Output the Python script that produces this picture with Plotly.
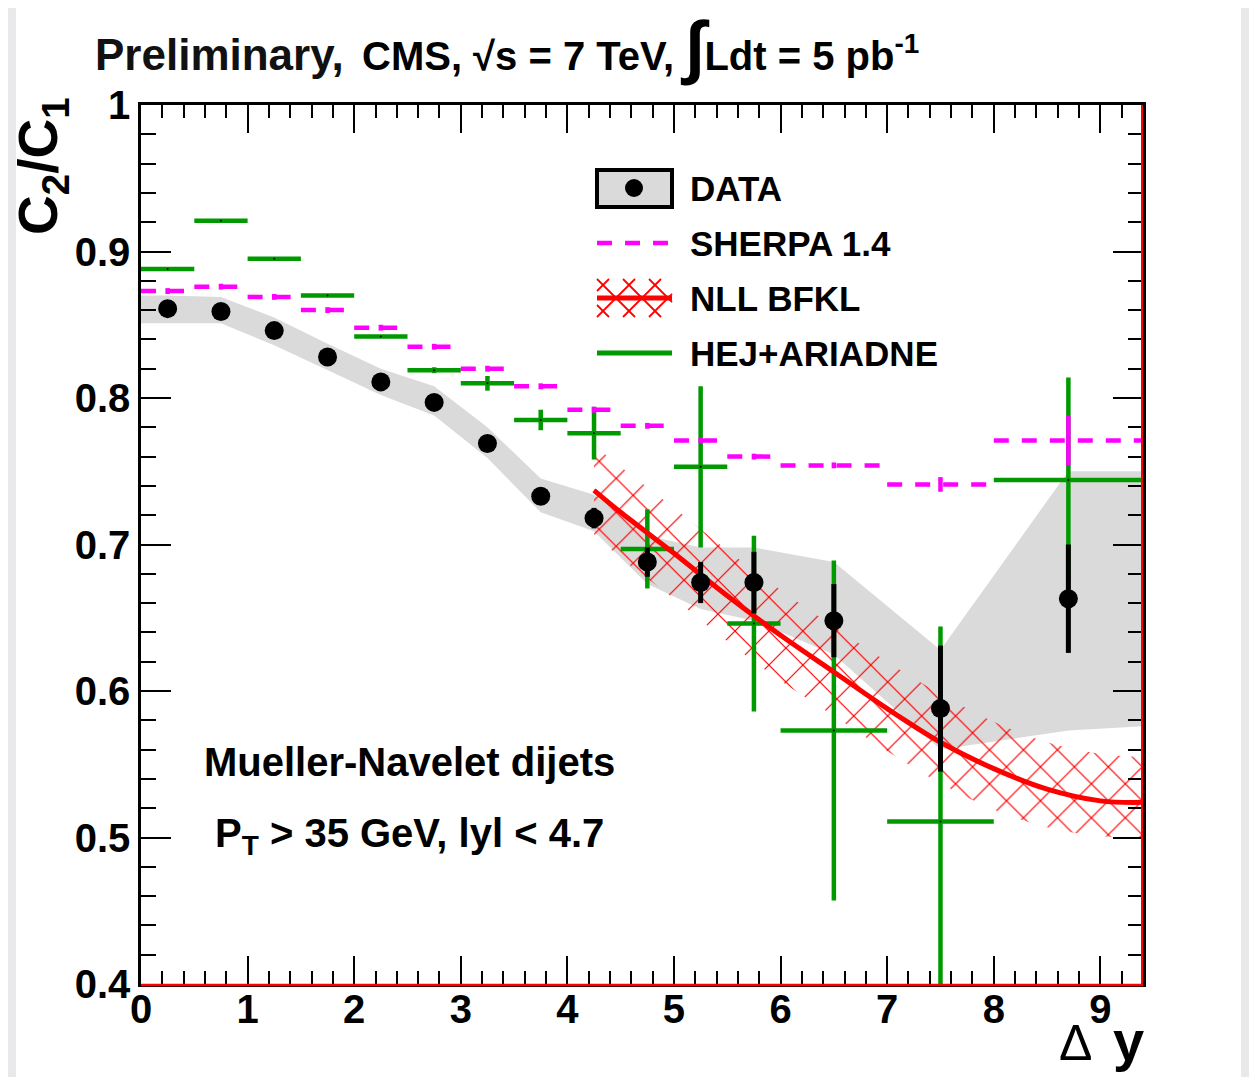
import plotly.graph_objects as go

# ---------------- data ----------------
data_x = [0.25, 0.75, 1.25, 1.75, 2.25, 2.75, 3.25, 3.75, 4.25, 4.75, 5.25, 5.75, 6.5, 7.5, 8.7]
data_y = [0.861, 0.859, 0.846, 0.828, 0.811, 0.797, 0.769, 0.733, 0.718, 0.688, 0.674, 0.674, 0.648, 0.588, 0.663]
data_stat = [0.002, 0.002, 0.002, 0.002, 0.003, 0.003, 0.004, 0.005, 0.007, 0.010, 0.014, 0.021, 0.025, 0.043, 0.037]

band_x = [0.0, 0.25, 0.75, 1.25, 1.75, 2.25, 2.75, 3.25, 3.75, 4.25, 4.75, 5.25, 5.75, 6.5, 7.5, 8.7, 9.4]
band_lo = [0.851, 0.851, 0.851, 0.836, 0.819, 0.802, 0.788, 0.759, 0.722, 0.709, 0.673, 0.656, 0.648, 0.625, 0.560, 0.573, 0.576]
band_hi = [0.870, 0.870, 0.869, 0.855, 0.837, 0.820, 0.808, 0.780, 0.745, 0.734, 0.706, 0.698, 0.698, 0.688, 0.628, 0.750, 0.750]

nll_x = [4.25, 4.5, 5.0, 5.5, 6.0, 6.5, 7.0, 7.5, 8.0, 8.5, 9.0, 9.4]
nll_y = [0.737, 0.722, 0.694, 0.665, 0.638, 0.613, 0.588, 0.565, 0.547, 0.533, 0.525, 0.524]
nll_hi = [0.768, 0.753, 0.725, 0.696, 0.669, 0.644, 0.620, 0.598, 0.579, 0.565, 0.557, 0.555]
nll_lo = [0.707, 0.691, 0.663, 0.634, 0.607, 0.583, 0.559, 0.537, 0.519, 0.507, 0.501, 0.500]

sherpa_lo = [0.0, 0.5, 1.0, 1.5, 2.0, 2.5, 3.0, 3.5, 4.0, 4.5, 5.0, 5.5, 6.0, 7.0, 8.0]
sherpa_hi = [0.5, 1.0, 1.5, 2.0, 2.5, 3.0, 3.5, 4.0, 4.5, 5.0, 5.5, 6.0, 7.0, 8.0, 9.4]
sherpa_y = [0.873, 0.876, 0.869, 0.860, 0.848, 0.835, 0.820, 0.808, 0.792, 0.781, 0.771, 0.760, 0.754, 0.741, 0.771]
sherpa_err = [0.002, 0.002, 0.002, 0.002, 0.002, 0.002, 0.002, 0.002, 0.002, 0.002, 0.002, 0.002, 0.002, 0.005, 0.017]

hej_x = [0.25, 0.75, 1.25, 1.75, 2.25, 2.75, 3.25, 3.75, 4.25, 4.75, 5.25, 5.75, 6.5, 7.5, 8.7]
hej_xerr = [0.25, 0.25, 0.25, 0.25, 0.25, 0.25, 0.25, 0.25, 0.25, 0.25, 0.25, 0.25, 0.5, 0.5, 0.7]
hej_y = [0.888, 0.921, 0.895, 0.870, 0.842, 0.819, 0.810, 0.785, 0.776, 0.697, 0.753, 0.646, 0.573, 0.511, 0.744]
hej_err = [0.001, 0.001, 0.001, 0.001, 0.001, 0.002, 0.005, 0.007, 0.018, 0.027, 0.055, 0.060, 0.116, 0.133, 0.070]

x_ticks = [0, 1, 2, 3, 4, 5, 6, 7, 8, 9]
y_ticks = [0.4, 0.5, 0.6, 0.7, 0.8, 0.9, 1.0]
y_ticktext = ["0.4", "0.5", "0.6", "0.7", "0.8", "0.9", "1"]

# ---------------- geometry helpers (page pixel coords) ----------------
PAGE_W, PAGE_H = 1257, 1085
OFF = 8                       # html body margin
W, H = PAGE_W - 2 * OFF, PAGE_H - 2 * OFF
L, R, T, B = 141, 1143, 105, 984   # plot area in page pixels

def px(x):
    return (x - L) / (R - L)

def py(y):
    return (B - y) / (B - T)

MAG = "#ff00ff"
GRN = "#009900"
RED = "#ff0000"
GRAY = "#dadada"
FONT = "Liberation Sans, Arial, sans-serif"

fig = go.Figure()

# systematic band of data
fig.add_trace(go.Scatter(x=band_x, y=band_lo, mode="lines", line=dict(width=0),
                         hoverinfo="skip", showlegend=False))
fig.add_trace(go.Scatter(x=band_x, y=band_hi, mode="lines", line=dict(width=0),
                         fill="tonexty", fillcolor=GRAY, hoverinfo="skip", showlegend=False))

# NLL BFKL hatched band
fig.add_trace(go.Scatter(x=nll_x, y=nll_lo, mode="lines", line=dict(width=0, shape="spline"),
                         hoverinfo="skip", showlegend=False))
fig.add_trace(go.Scatter(x=nll_x, y=nll_hi, mode="lines", line=dict(width=0, shape="spline"),
                         fill="tonexty", fillcolor="rgba(0,0,0,0)",
                         fillpattern=dict(shape="x", fgcolor=RED, fgopacity=1, bgcolor="rgba(0,0,0,0)",
                                          size=24, solidity=0.1),
                         hoverinfo="skip", showlegend=False))

# HEJ+ARIADNE
fig.add_trace(go.Scatter(x=hej_x, y=hej_y, mode="markers",
                         marker=dict(size=2, color="black"),
                         error_x=dict(type="data", array=hej_xerr, width=0, thickness=4.5, color=GRN),
                         error_y=dict(type="data", array=hej_err, width=0, thickness=4.5, color=GRN),
                         name="HEJ+ARIADNE", showlegend=False))

# SHERPA 1.4 dashed bin lines
sx, sy = [], []
for lo, hi, v in zip(sherpa_lo, sherpa_hi, sherpa_y):
    sx += [lo, hi, None]
    sy += [v, v, None]
fig.add_trace(go.Scatter(x=sx, y=sy, mode="lines",
                         line=dict(color=MAG, width=4.5, dash="15px,13px"),
                         name="SHERPA 1.4", showlegend=False))
sherpa_c = [(a + b) / 2 for a, b in zip(sherpa_lo, sherpa_hi)]
fig.add_trace(go.Scatter(x=sherpa_c, y=sherpa_y, mode="markers",
                         marker=dict(size=1, color="rgba(0,0,0,0)"),
                         error_y=dict(type="data", array=sherpa_err, width=0, thickness=4.5, color=MAG),
                         showlegend=False, hoverinfo="skip"))

# NLL BFKL central curve
fig.add_trace(go.Scatter(x=nll_x, y=nll_y, mode="lines",
                         line=dict(color=RED, width=5, shape="spline"),
                         name="NLL BFKL", showlegend=False))

# DATA
fig.add_trace(go.Scatter(x=data_x, y=data_y, mode="markers",
                         marker=dict(size=19, color="black"),
                         error_y=dict(type="data", array=data_stat, width=0, thickness=5, color="black"),
                         name="DATA", showlegend=False))

# ---------------- decorations ----------------
shapes = []
# page side strips
shapes.append(dict(type="rect", xref="paper", yref="paper", x0=px(OFF), x1=px(16), y0=py(PAGE_H), y1=py(0),
                   fillcolor="#e9e9ec", line=dict(width=0), layer="below"))
shapes.append(dict(type="rect", xref="paper", yref="paper", x0=px(1241), x1=px(PAGE_W - OFF), y0=py(PAGE_H), y1=py(0),
                   fillcolor="#e9e9ec", line=dict(width=0), layer="below"))
# red frame lines (bottom / right)
shapes.append(dict(type="line", xref="paper", yref="paper", x0=0, x1=1, y0=py(B + 1), y1=py(B + 1),
                   line=dict(color=RED, width=2.5)))
shapes.append(dict(type="line", xref="paper", yref="paper", x0=px(R - 1), x1=px(R - 1), y0=0, y1=1,
                   line=dict(color=RED, width=2)))

# legend symbols
lx0, lx1 = 597, 672
shapes.append(dict(type="rect", xref="paper", yref="paper", x0=px(lx0), x1=px(lx1), y0=py(207), y1=py(170),
                   fillcolor=GRAY, line=dict(color="black", width=4)))
shapes.append(dict(type="circle", xref="paper", yref="paper", x0=px(625), x1=px(643), y0=py(197), y1=py(179),
                   fillcolor="black", line=dict(color="black", width=0)))
shapes.append(dict(type="line", xref="paper", yref="paper", x0=px(lx0), x1=px(lx1), y0=py(243), y1=py(243),
                   line=dict(color=MAG, width=4.5, dash="15px,13px")))
# hatch in legend
hy0, hy1 = 279, 317
hh = hy1 - hy0
step = 26
for k in range(-3, 5):
    xa = lx0 + k * step
    x_s, y_s = xa, hy0
    x_e, y_e = xa + hh, hy1
    if x_s < lx0:
        y_s += (lx0 - x_s); x_s = lx0
    if x_e > lx1:
        y_e -= (x_e - lx1); x_e = lx1
    if x_s < x_e:
        shapes.append(dict(type="line", xref="paper", yref="paper", x0=px(x_s), y0=py(y_s),
                           x1=px(x_e), y1=py(y_e), line=dict(color=RED, width=1.8)))
    x_s, y_s = xa, hy1
    x_e, y_e = xa + hh, hy0
    if x_s < lx0:
        y_s -= (lx0 - x_s); x_s = lx0
    if x_e > lx1:
        y_e += (x_e - lx1); x_e = lx1
    if x_s < x_e:
        shapes.append(dict(type="line", xref="paper", yref="paper", x0=px(x_s), y0=py(y_s),
                           x1=px(x_e), y1=py(y_e), line=dict(color=RED, width=1.8)))
shapes.append(dict(type="line", xref="paper", yref="paper", x0=px(lx0), x1=px(lx1), y0=py(298), y1=py(298),
                   line=dict(color=RED, width=5)))
shapes.append(dict(type="line", xref="paper", yref="paper", x0=px(lx0), x1=px(lx1), y0=py(353), y1=py(353),
                   line=dict(color=GRN, width=5)))

annotations = []
def ann(text, x, y, size, xanchor="left", yanchor="middle", angle=0, color="black"):
    annotations.append(dict(text=text, xref="paper", yref="paper", x=px(x), y=py(y),
                            xanchor=xanchor, yanchor=yanchor, showarrow=False, textangle=angle,
                            font=dict(family=FONT, size=size, color=color)))

for i, lbl in enumerate(["DATA", "SHERPA 1.4", "NLL BFKL", "HEJ+ARIADNE"]):
    ann("<b>" + lbl + "</b>", 688, 188 + 55 * i, 35)

ann("<b>Mueller-Navelet dijets</b>", 409, 762, 40, xanchor="center")
ann("<b>P<sub>T</sub> &gt; 35 GeV, lyl &lt; 4.7</b>", 409, 836, 40, xanchor="center")

ann("<b>Preliminary,</b>", 93, 55, 44, color="#111111")
ann("<b>CMS, √s = 7 TeV, <span style='font-size:70px'>∫</span>Ldt = 5 pb<sup>-1</sup></b>", 360, 47, 40)

ann("<b>C<sub>2</sub>/C<sub>1</sub></b>", 42, 166, 55, xanchor="center", angle=-90)
ann("Δ", 1075, 1043, 50, xanchor="center")
ann("<b>y</b>", 1128, 1040, 56, xanchor="center")

fig.update_layout(
    width=W, height=H,
    margin=dict(l=L - OFF, r=(W + OFF) - R, t=T - OFF, b=(H + OFF) - B),
    paper_bgcolor="white", plot_bgcolor="white",
    showlegend=False,
    shapes=shapes, annotations=annotations,
    font=dict(family=FONT, color="black"),
)
fig.update_xaxes(
    range=[0, 9.4], tickmode="array", tickvals=x_ticks, ticktext=[str(v) for v in x_ticks],
    ticks="inside", ticklen=28, tickwidth=1.5, tickcolor="black",
    minor=dict(dtick=0.2, tick0=0, ticks="inside", ticklen=13, tickwidth=1.5, tickcolor="black", showgrid=False),
    showline=True, linecolor="black", linewidth=2.5, mirror="allticks",
    showgrid=False, zeroline=False, ticklabelstandoff=-12,
    tickfont=dict(family=FONT, size=40, color="black", weight="bold"),
)
fig.update_yaxes(
    range=[0.4, 1.0], tickmode="array", tickvals=y_ticks, ticktext=y_ticktext,
    ticks="inside", ticklen=30, tickwidth=1.5, tickcolor="black",
    minor=dict(dtick=0.02, tick0=0.4, ticks="inside", ticklen=15, tickwidth=1.5, tickcolor="black", showgrid=False),
    showline=True, linecolor="black", linewidth=2.5, mirror="allticks",
    showgrid=False, zeroline=False,
    tickfont=dict(family=FONT, size=40, color="black", weight="bold"),
)

fig.write_html("out.html")
